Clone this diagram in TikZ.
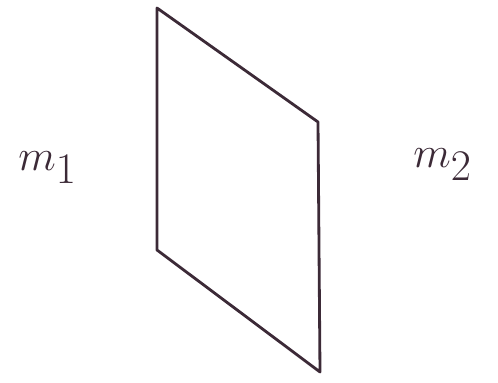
\documentclass[tikz,border=0pt]{standalone}
\usetikzlibrary{positioning}
\definecolor{ink}{RGB}{60,42,55}

\begin{document}
\begin{tikzpicture}[
    side/.style={draw=ink, line width=1.6pt, line cap=round, line join=round},
    mass/.style={text=ink, font=\fontsize{34}{36}\selectfont}
  ]
  \useasboundingbox (0,0) rectangle (9.96,-7.66);

  % corners of the sheet
  \coordinate (tl) at (3.14,-0.16);
  \coordinate (tr) at (6.36,-2.44);
  \coordinate (br) at (6.40,-7.44);
  \coordinate (bl) at (3.14,-5.00);

  \draw[side] (tl) -- (tr) -- (br) -- (bl) -- cycle;

  % the two media
  \node[mass] (m1) at (0.95,-3.35) {$m_1$};
  \node[mass] (m2) at (8.85,-3.30) {$m_2$};
\end{tikzpicture}
\end{document}
